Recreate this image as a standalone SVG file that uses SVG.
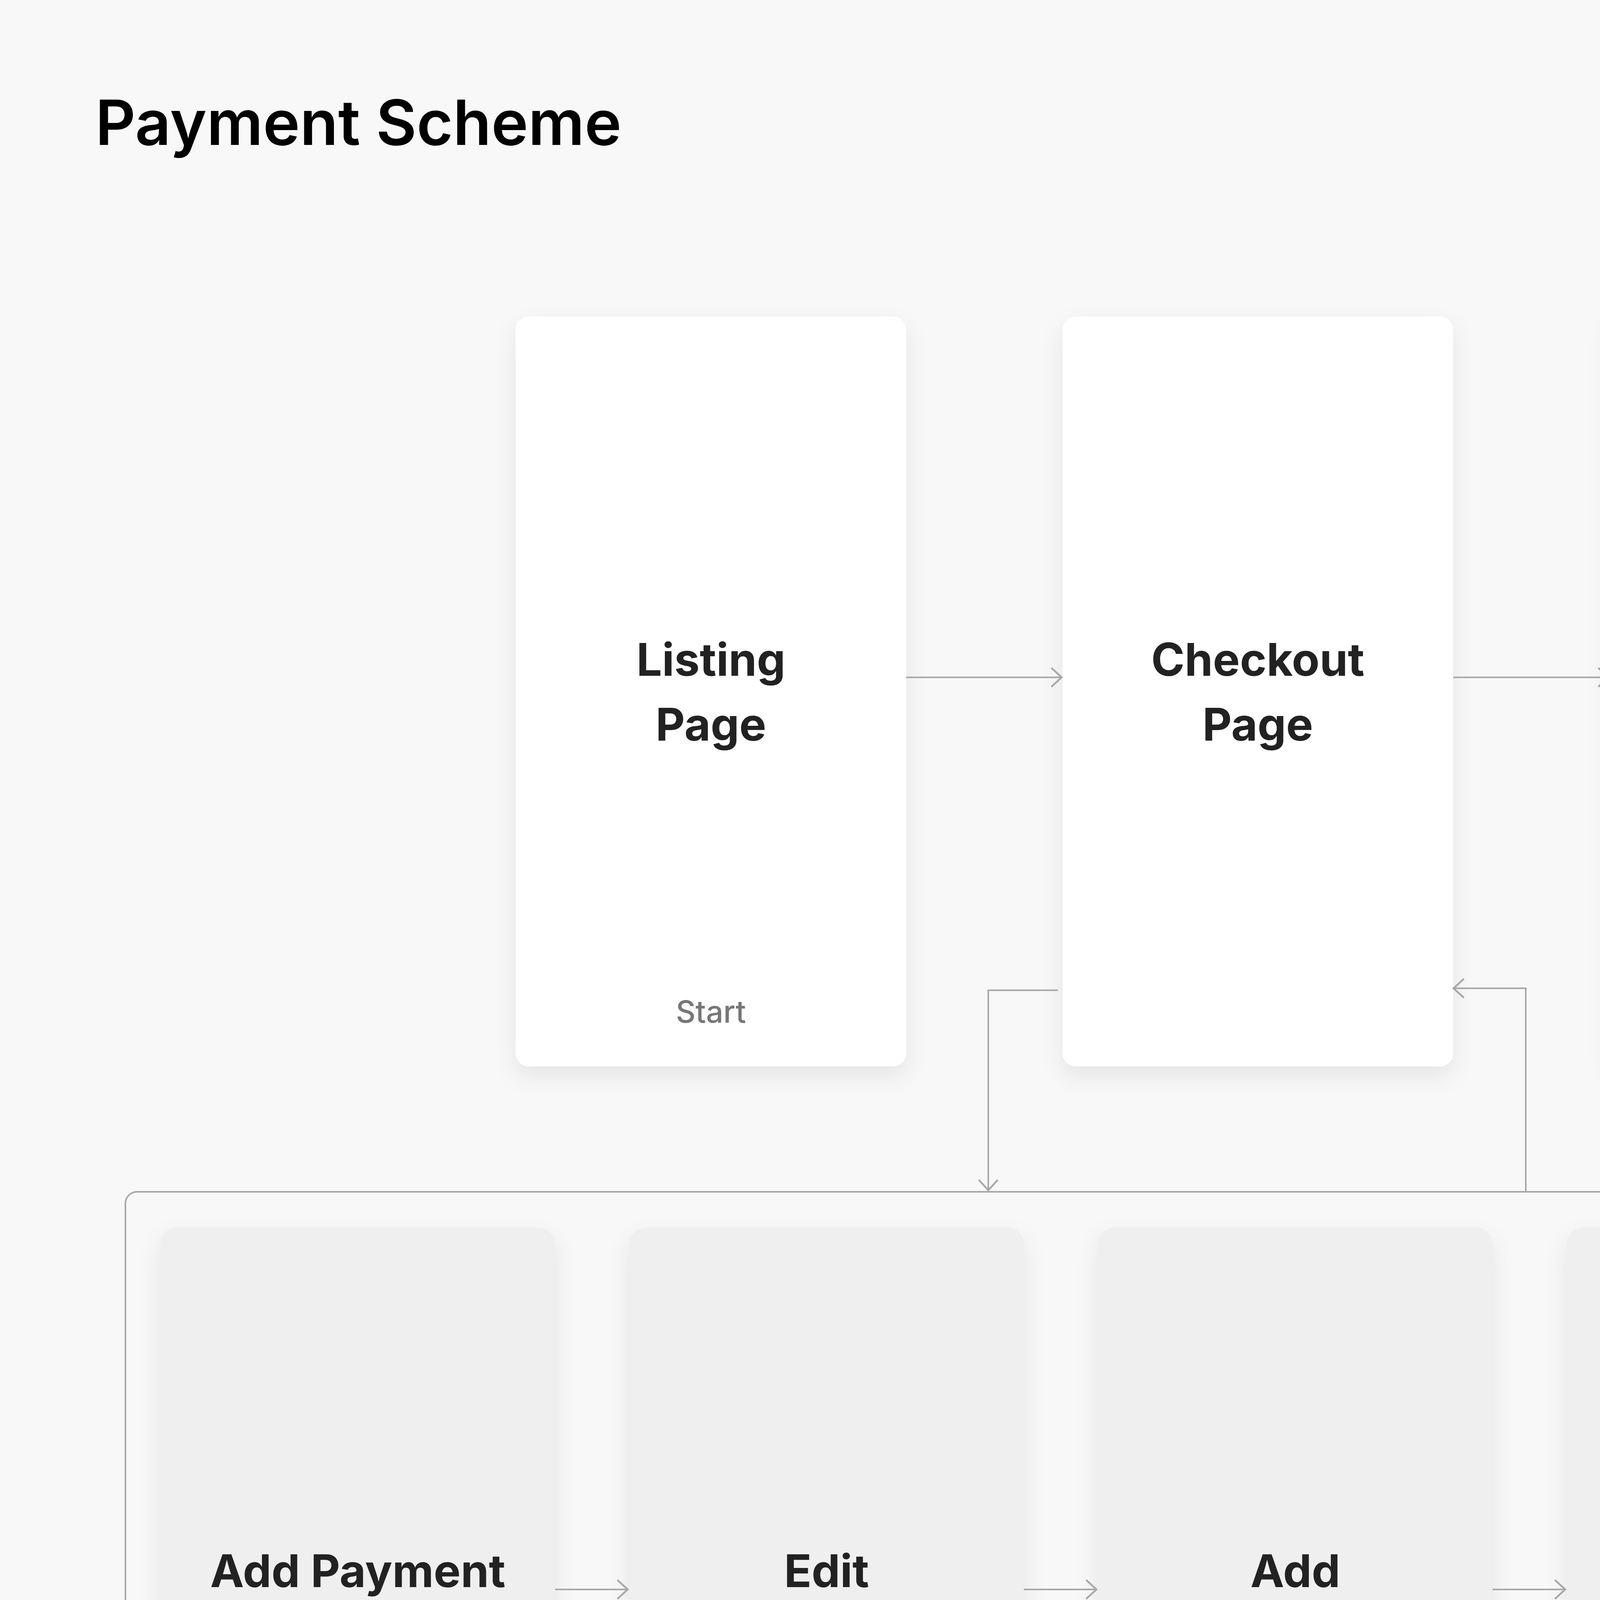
<svg xmlns="http://www.w3.org/2000/svg" width="6632" height="5482" viewBox="0 0 6632 5482">
<style>
.bg{fill:#f8f8f8}
.card{fill:#ffffff}
.sub{fill:#efefef}
.lbl{font-family:Inter,"Noto Sans",sans-serif;font-weight:700;font-size:116px;fill:#222222;text-anchor:middle}
.teal{fill:#009e8e}
.note{font-family:Inter,"Noto Sans",sans-serif;font-weight:500;font-size:78px;fill:#777777;text-anchor:middle}
.small{font-family:Inter,"Noto Sans",sans-serif;font-weight:400;font-size:64px;fill:#777777;text-anchor:middle}
.title{font-family:Inter,"Liberation Sans",sans-serif;font-weight:600;font-size:160px;fill:#000000}
.conn{fill:none;stroke:#a8a8a8;stroke-width:4}
.frame{fill:none;stroke:#a8a8a8;stroke-width:4}
</style>
<defs>
<filter id="sh" x="-20%" y="-10%" width="140%" height="125%">
<feDropShadow dx="0" dy="24" stdDeviation="28" flood-color="#000000" flood-opacity="0.08"/>
</filter>
<marker id="arr" markerUnits="userSpaceOnUse" markerWidth="60" markerHeight="60" viewBox="-4 -26 32 52" refX="23" refY="0" orient="auto">
<path d="M0,-21 L23,0 L0,21" fill="none" stroke="#a8a8a8" stroke-width="4"/>
</marker>
</defs>
<rect class="bg" x="0" y="0" width="6632" height="5482"/>
<text class="title" x="244" y="371">Payment Scheme</text>

<g id="group-frame">
<rect class="frame" x="321" y="3051" width="5987" height="2108" rx="30"/>
</g>

<g id="listing-page">
<rect class="card" filter="url(#sh)" x="1320" y="810" width="1000" height="1920" rx="34"/>
<text class="lbl" x="1820" y="1730">Listing</text>
<text class="lbl" x="1820" y="1896">Page</text>
<text class="note" x="1820" y="2618">Start</text>
</g>
<g id="checkout-page">
<rect class="card" filter="url(#sh)" x="2720" y="810" width="1000" height="1920" rx="34"/>
<text class="lbl" x="3220" y="1730">Checkout</text>
<text class="lbl" x="3220" y="1896">Page</text>
</g>
<g id="order-details">
<rect class="card" filter="url(#sh)" x="4120" y="810" width="1000" height="1920" rx="34"/>
<text class="lbl" x="4620" y="1730">Order</text>
<text class="lbl" x="4620" y="1896">Details</text>
<text class="note" x="4620" y="2618">Done</text>
</g>

<g id="add-payment-method">
<rect class="sub" filter="url(#sh)" x="411" y="3143" width="1010" height="1922" rx="40"/>
<text class="lbl" x="916" y="4063">Add Payment</text>
<text class="lbl" x="916" y="4232">Method</text>
</g>
<g id="edit-occupant">
<rect class="sub" filter="url(#sh)" x="1611" y="3143" width="1010" height="1922" rx="40"/>
<text class="lbl" x="2116" y="4063">Edit</text>
<text class="lbl" x="2116" y="4231">Occupant</text>
</g>
<g id="add-voucher">
<rect class="sub" filter="url(#sh)" x="2811" y="3143" width="1010" height="1922" rx="40"/>
<text class="lbl" x="3316" y="4063">Add</text>
<text class="lbl" x="3316" y="4231">Voucher</text>
</g>
<g id="add-referral-code">
<rect class="sub" filter="url(#sh)" x="4011" y="3143" width="1010" height="1922" rx="40"/>
<text class="lbl" x="4516" y="3978">Add</text>
<text class="lbl" x="4516" y="4146">Referral</text>
<text class="lbl" x="4516" y="4314">Code</text>
</g>
<g id="payment-scheme">
<rect class="sub" filter="url(#sh)" x="5211" y="3143" width="1010" height="1922" rx="40"/>
<text class="lbl teal" x="5716" y="3935">Payment</text>
<text class="lbl teal" x="5716" y="4102">Scheme</text>
<text class="small" x="5716" y="4282">Split Payment or</text>
<text class="small" x="5716" y="4377">Full Payment</text>
</g>

<g id="connectors">
<path class="conn" d="M2320,1734 H2718" marker-end="url(#arr)"/>
<path class="conn" d="M3720,1734 H4118" marker-end="url(#arr)"/>
<path class="conn" d="M2708,2535 H2530 V3047" marker-end="url(#arr)"/>
<path class="conn" d="M3906,3051 V2530 H3721" marker-end="url(#arr)"/>
<path class="conn" d="M1421,4069 H1607" marker-end="url(#arr)"/>
<path class="conn" d="M2621,4069 H2807" marker-end="url(#arr)"/>
<path class="conn" d="M3821,4069 H4007" marker-end="url(#arr)"/>
<path class="conn" d="M5021,4069 H5207" marker-end="url(#arr)"/>
</g>
</svg>
